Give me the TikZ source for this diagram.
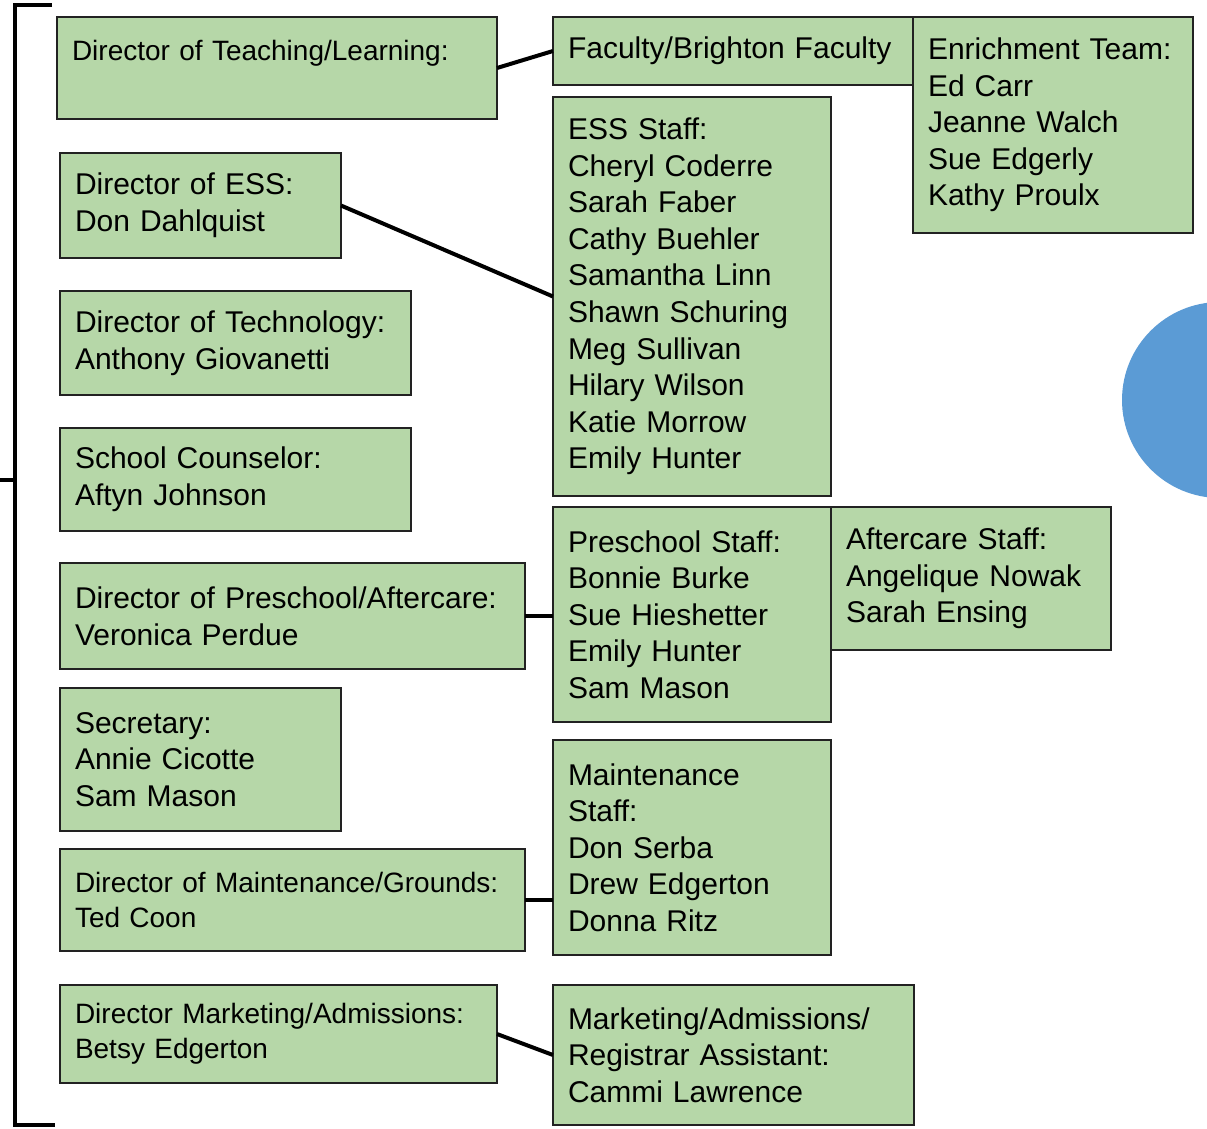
\documentclass[tikz,border=0pt]{standalone}
\usepackage{fontspec}
\setmainfont{Liberation Sans}
\usetikzlibrary{positioning}
\definecolor{boxgreen}{HTML}{B6D7A8}
\definecolor{boxline}{HTML}{222222}
\definecolor{dotblue}{HTML}{5B9BD5}
\newcommand{\boxfont}{\fontsize{30}{36.6}\selectfont}
\newcommand{\smallboxfont}{\fontsize{28}{35}\selectfont}
\tikzset{staffbox/.style={draw=boxline, line width=2.5pt, fill=boxgreen, align=left, inner xsep=15pt, inner ysep=0pt, outer sep=0pt, font=\boxfont}}
\tikzset{smallbox/.style={staffbox, font=\smallboxfont}}
\tikzset{link/.style={draw, line width=4pt}}
\tikzset{bracket/.style={draw, line width=4pt}}

\begin{document}
\begin{tikzpicture}[x=1pt, y=-1pt]
\clip (0,0) rectangle (1207,1128);
\fill[white] (0,0) rectangle (1207,1128);

% directors
\node (teaching) [smallbox, anchor=north west, text width=410pt, minimum height=102pt] at (57,17) {Director of Teaching/Learning:\\ \mbox{}};
\node (essdir) [staffbox, below right=34pt and 3pt of teaching.south west, text width=251pt, minimum height=105pt] {Director of ESS:\\Don Dahlquist};
\node (techdir) [staffbox, below right=33pt and 0pt of essdir.south west, text width=321pt, minimum height=104pt] {Director of Technology:\\Anthony Giovanetti};
\node (counselor) [staffbox, below right=33pt and 0pt of techdir.south west, text width=321pt, minimum height=103pt] {School Counselor:\\Aftyn Johnson};
\node (predir) [staffbox, below right=32pt and 0pt of counselor.south west, text width=435pt, minimum height=106pt] {Director of Preschool/Aftercare:\\Veronica Perdue};
\node (secretary) [staffbox, below right=19pt and 0pt of predir.south west, text width=251pt, minimum height=143pt] {Secretary:\\Annie Cicotte\\Sam Mason};
\node (maintdir) [smallbox, below right=18pt and 0pt of secretary.south west, text width=435pt, minimum height=102pt] {Director of Maintenance/Grounds:\\Ted Coon};
\node (mktdir) [smallbox, below right=34pt and 0pt of maintdir.south west, text width=407pt, minimum height=98pt] {Director Marketing/Admissions:\\Betsy Edgerton};

% staff
\node (faculty) [staffbox, anchor=north west, text width=330pt, minimum height=68pt] at (553,17) {Faculty/Brighton Faculty};
\node (enrich) [staffbox, below right=0pt and 0pt of faculty.north east, text width=250pt, minimum height=216pt] {Enrichment Team:\\Ed Carr\\Jeanne Walch\\Sue Edgerly\\Kathy Proulx};
\node (essstaff) [staffbox, below right=12pt and 0pt of faculty.south west, text width=248pt, minimum height=399pt] {ESS Staff:\\Cheryl Coderre\\Sarah Faber\\Cathy Buehler\\Samantha Linn\\Shawn Schuring\\Meg Sullivan\\Hilary Wilson\\Katie Morrow\\Emily Hunter};
\node (prestaff) [staffbox, below right=11pt and 0pt of essstaff.south west, text width=248pt, minimum height=215pt] {Preschool Staff:\\Bonnie Burke\\Sue Hieshetter\\Emily Hunter\\Sam Mason};
\node (aftercare) [staffbox, below right=0pt and 0pt of prestaff.north east, text width=250pt, minimum height=143pt] {Aftercare Staff:\\Angelique Nowak\\Sarah Ensing};
\node (maintstaff) [staffbox, below right=18pt and 0pt of prestaff.south west, text width=248pt, minimum height=215pt] {Maintenance\\Staff:\\Don Serba\\Drew Edgerton\\Donna Ritz};
\node (mktasst) [staffbox, below right=30pt and 0pt of maintstaff.south west, text width=331pt, minimum height=140pt] {Marketing/Admissions/\\Registrar Assistant:\\Cammi Lawrence};

\draw [link] (teaching.east) -- (faculty.west);
\draw [link] (essdir.east) -- (essstaff.west);
\draw [link] (predir.east) -- (predir.east -| prestaff.west);
\draw [link] (maintdir.east) -- (maintdir.east -| maintstaff.west);
\draw [link] (mktdir.east) -- (mktasst.west);

% bracket and dot
\draw [bracket] (52,5) -- (15,5) -- (15,1125) -- (55,1125);
\draw [bracket] (15,480) -- (0,480);
\fill [dotblue] (1220,400) circle (98pt);

\end{tikzpicture}
\end{document}
